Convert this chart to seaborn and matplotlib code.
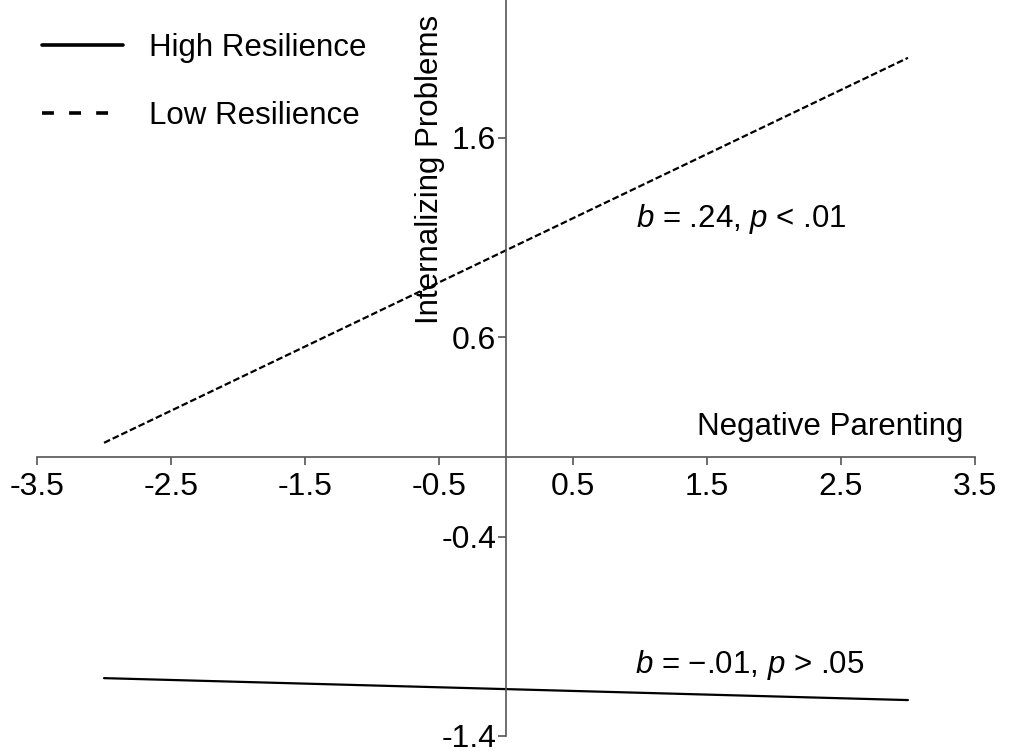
import pandas as pd
import numpy as np
import matplotlib
matplotlib.use('Agg')
import matplotlib.pyplot as plt
import seaborn as sns

# ─── DATA ─────────────────────────────────────────────────────────────────────
GROUPS      = ['High Resilience', 'Low Resilience']
X_ENDS      = [-3.0, 3.0]
HIGH_Y      = [-1.11, -1.22]
LOW_Y       = [0.07, 2.00]
X_TICKS     = [-3.5, -2.5, -1.5, -0.5, 0.5, 1.5, 2.5, 3.5]
Y_TICKS     = [1.6, 0.6, -0.4, -1.4]
ANNOT_TEXT  = [r'$b$ = .24, $p$ < .01', r'$b$ = $-$.01, $p$ > .05']

# ─── STYLE ────────────────────────────────────────────────────────────────────
sns.set_style('white')
plt.rcParams['font.family'] = ['Liberation Sans', 'DejaVu Sans']
plt.rcParams['mathtext.fontset'] = 'custom'
plt.rcParams['mathtext.rm'] = 'Liberation Sans'
plt.rcParams['mathtext.it'] = 'Liberation Sans:italic'
plt.rcParams['text.color'] = 'black'
AXIS_GREY = '#555555'
TXT = 22.5

df = pd.DataFrame({
    'group': [GROUPS[0]] * 2 + [GROUPS[1]] * 2,
    'x': X_ENDS + X_ENDS,
    'y': HIGH_Y + LOW_Y,
})

fig = plt.figure(figsize=(10.15, 7.53), dpi=100)
ax = fig.add_axes([0.0365, 0.0226, 0.924, 0.9774])

sns.lineplot(data=df, x='x', y='y', style='group', color='black',
             dashes={GROUPS[0]: '', GROUPS[1]: (3, 1.3)},
             linewidth=1.6, ax=ax, legend=True)

ax.set_xlim(-3.5, 3.5)
ax.set_ylim(-1.4, 2.29)

# axes crossing at the origin
for side in ['top', 'right']:
    ax.spines[side].set_visible(False)
ax.spines['left'].set_position(('data', 0))
ax.spines['bottom'].set_position(('data', 0))
for side in ['left', 'bottom']:
    ax.spines[side].set_color(AXIS_GREY)
    ax.spines[side].set_linewidth(1.2)

ax.set_xticks(X_TICKS)
ax.set_yticks(Y_TICKS)
ax.set_xticklabels([f'{t:.1f}' for t in X_TICKS], fontsize=23, color='black')
ax.set_yticklabels([f'{t:.1f}' for t in Y_TICKS], fontsize=23, color='black')
ax.tick_params(axis='both', which='major', bottom=True, left=True,
               direction='out', length=6, width=1.2, color=AXIS_GREY)
ax.tick_params(axis='x', pad=5)
ax.tick_params(axis='y', pad=1)
ax.set_xlabel('')
ax.set_ylabel('')

ax.text(2.42, 0.15, 'Negative Parenting', ha='center', va='center', fontsize=TXT)
ax.text(-0.57, 1.44, 'Internalizing Problems', ha='center', va='center',
        rotation=90, fontsize=TXT)

ax.text(1.76, 1.19, ANNOT_TEXT[0], ha='center', va='center', fontsize=TXT)
ax.text(1.82, -1.045, ANNOT_TEXT[1], ha='center', va='center', fontsize=TXT)

handles, labels = ax.get_legend_handles_labels()
for h in handles:
    h.set_linewidth(2.6)
handles[1].set_dashes((3.3, 4.2))
ax.legend(handles, labels, loc='upper left', bbox_to_anchor=(-0.0085, 0.972),
          borderaxespad=0, frameon=False, fontsize=TXT, handlelength=2.6,
          handletextpad=0.85, labelspacing=1.22)

fig.savefig('out.png', dpi=100)
